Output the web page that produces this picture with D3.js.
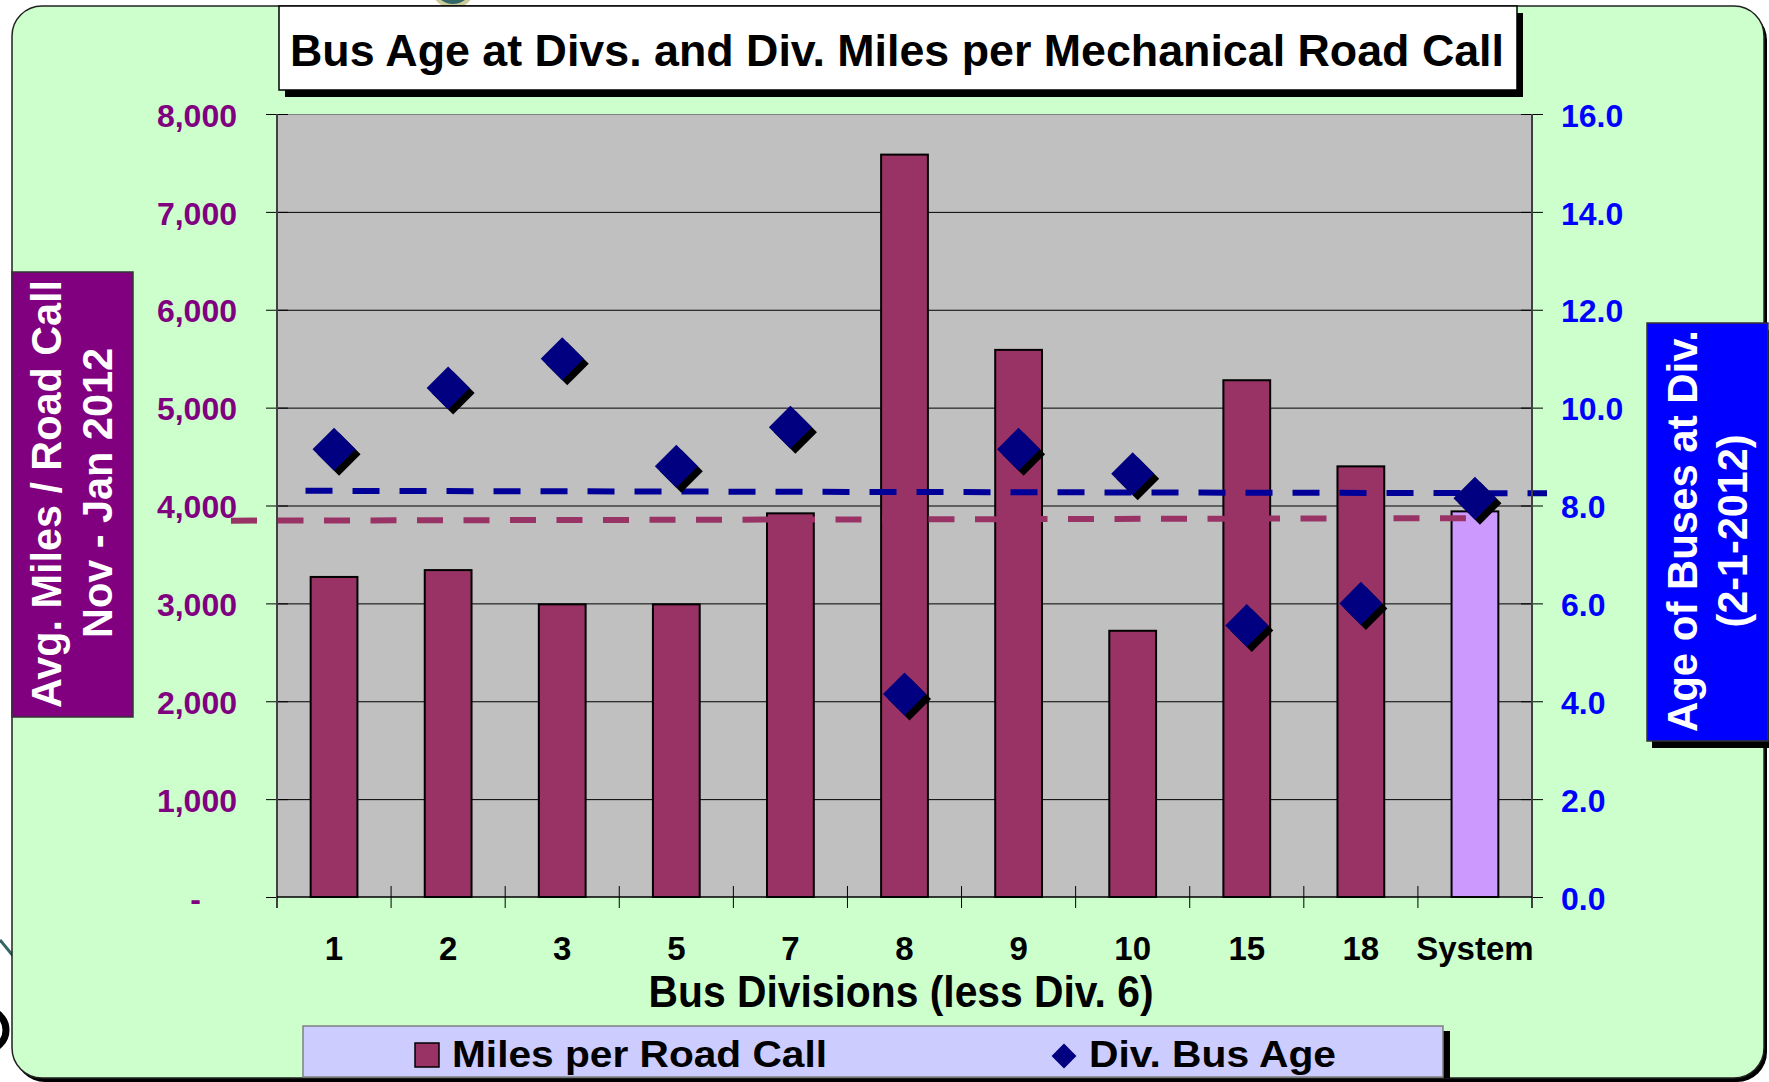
<!DOCTYPE html>
<html>
<head>
<meta charset="utf-8">
<script src="https://cdn.jsdelivr.net/npm/d3@7"></script>
<style>
  body { margin: 0; background: #fff; }
  svg { display: block; font-family: 'Liberation Sans', Arial, sans-serif; font-weight: bold; }
</style>
</head>
<body>
<svg width="1769" height="1082"></svg>
<script>
const divisions = ['1', '2', '3', '5', '7', '8', '9', '10', '15', '18', 'System']
const milesPerRoadCall = [3270, 3340, 2990, 2990, 3920, 7585, 5590, 2720, 5280, 4400, 3940]
const busAge = [9.15, 10.4, 11.0, 8.8, 9.6, 4.15, 9.15, 8.65, 5.55, 6.0, 8.15]

const milesTicks = [0, 1000, 2000, 3000, 4000, 5000, 6000, 7000, 8000]
const milesTickLabels = ['-', '1,000', '2,000', '3,000', '4,000', '5,000', '6,000', '7,000', '8,000']
const ageTicks = [0, 2, 4, 6, 8, 10, 12, 14, 16]
const ageTickLabels = ['0.0', '2.0', '4.0', '6.0', '8.0', '10.0', '12.0', '14.0', '16.0']

// hand drawn average lines (start, end)
const avgMilesLine = [3845, 3870]
const avgAgeLine = [8.30, 8.25]

draw()

function draw () {
  const dim = setDimensions()
  const scales = setScales(dim)
  const svg = d3.select('svg')

  drawFrame(svg)
  drawPlotArea(svg, dim, scales)
  drawBars(svg, dim, scales)
  drawAverageLines(svg, dim, scales)
  drawDiamonds(svg, scales)
  drawAxes(svg, dim, scales)
  drawTitles(svg)
  drawLegend(svg)
}

function setDimensions () {
  return { left: 277, right: 1532, top: 114, bottom: 897 }
}

function setScales (dim) {
  return {
    x: d3.scaleBand().domain(divisions).range([dim.left, dim.right]),
    yMiles: d3.scaleLinear().domain([0, 8000]).range([dim.bottom, dim.top]),
    yAge: d3.scaleLinear().domain([0, 16]).range([dim.bottom, dim.top])
  }
}

function drawFrame (svg) {
  // bits of the slide behind the chart
  svg.append('line')
    .attr('x1', 0).attr('y1', 940).attr('x2', 14).attr('y2', 957)
    .attr('stroke', '#336666').attr('stroke-width', 3)
  svg.append('circle')
    .attr('cx', -14).attr('cy', 1030).attr('r', 20)
    .attr('fill', 'none').attr('stroke', '#000').attr('stroke-width', 7)
  svg.append('ellipse')
    .attr('cx', 453).attr('cy', -8).attr('rx', 18).attr('ry', 14)
    .attr('fill', '#336666').attr('stroke', '#cccc99').attr('stroke-width', 4)

  svg.append('rect') // shadow
    .attr('x', 15).attr('y', 10).attr('width', 1752).attr('height', 1072)
    .attr('rx', 30).attr('fill', '#000')
  svg.append('rect')
    .attr('x', 12).attr('y', 6).attr('width', 1752).attr('height', 1072)
    .attr('rx', 30).attr('fill', '#CCFFCC')
    .attr('stroke', '#222').attr('stroke-width', 1.5)
}

function drawPlotArea (svg, dim, { yMiles }) {
  svg.append('rect')
    .attr('x', dim.left).attr('y', dim.top)
    .attr('width', dim.right - dim.left).attr('height', dim.bottom - dim.top)
    .attr('fill', '#C0C0C0')

  svg.append('g')
    .attr('transform', `translate(${dim.left},0)`)
    .call(d3.axisLeft(yMiles)
      .tickValues(milesTicks.slice(1))
      .tickSize(-(dim.right - dim.left))
      .tickFormat(''))
    .call(g => g.select('.domain').remove())
    .call(g => g.selectAll('.tick line')
      .attr('stroke', d => d === 8000 ? '#808080' : '#000')
      .attr('stroke-width', 1))
}

function drawBars (svg, dim, { x, yMiles }) {
  const w = x.bandwidth() * 0.41
  svg.append('g')
    .selectAll('rect')
    .data(milesPerRoadCall)
    .join('rect')
      .attr('x', (d, i) => x(divisions[i]) + (x.bandwidth() - w) / 2)
      .attr('y', d => yMiles(d))
      .attr('width', w)
      .attr('height', d => dim.bottom - yMiles(d))
      .attr('fill', (d, i) => divisions[i] === 'System' ? '#CC99FF' : '#993366')
      .attr('stroke', '#000')
      .attr('stroke-width', 2)
}

function drawAverageLines (svg, dim, { x, yMiles, yAge }) {
  const bw = x.bandwidth()
  svg.append('line') // system miles
    .attr('x1', dim.left - 46).attr('y1', yMiles(avgMilesLine[0]))
    .attr('x2', x('System') + bw / 2 - 9).attr('y2', yMiles(avgMilesLine[1]))
    .attr('stroke', '#993366').attr('stroke-width', 6)
    .attr('stroke-dasharray', '26 20.5')
  svg.append('line') // system age
    .attr('x1', x(divisions[0]) + bw * 0.25).attr('y1', yAge(avgAgeLine[0]))
    .attr('x2', dim.right + 15).attr('y2', yAge(avgAgeLine[1]))
    .attr('stroke', '#000099').attr('stroke-width', 6)
    .attr('stroke-dasharray', '27 20')
}

function drawDiamonds (svg, { x, yAge }) {
  const diamond = d3.symbol(d3.symbolSquare, 925)
  const cx = i => x(divisions[i]) + x.bandwidth() / 2
  const g = svg.append('g')

  g.selectAll('.shadow')
    .data(busAge)
    .join('path')
      .attr('class', 'shadow')
      .attr('d', diamond)
      .attr('transform', (d, i) => `translate(${cx(i) + 5},${yAge(d) + 5}) rotate(45)`)
      .attr('fill', '#000')

  g.selectAll('.marker')
    .data(busAge)
    .join('path')
      .attr('class', 'marker')
      .attr('d', diamond)
      .attr('transform', (d, i) => `translate(${cx(i)},${yAge(d)}) rotate(45)`)
      .attr('fill', '#000080')
}

function drawAxes (svg, dim, scales) {
  drawYAxisLeft(svg, dim, scales.yMiles)
  drawYAxisRight(svg, dim, scales.yAge)
  drawXAxis(svg, dim, scales.x)
}

function styleAxis (g, size, color) {
  g.attr('font-family', null).attr('font-size', size)
  g.select('.domain').remove()
  g.selectAll('.tick text').attr('fill', color)
  g.selectAll('.tick line').attr('stroke', '#000')
}

function drawYAxisLeft (svg, dim, yMiles) {
  svg.append('g')
    .attr('transform', `translate(${dim.left},0)`)
    .call(d3.axisLeft(yMiles)
      .tickValues(milesTicks)
      .tickSize(11)
      .tickPadding(29)
      .tickFormat(d => milesTickLabels[milesTicks.indexOf(d)]))
    .call(g => styleAxis(g, 32, '#800080'))
    .call(g => g.selectAll('.tick line').attr('x2', -11).attr('x1', d => d === 0 ? 0 : 11))
    .call(g => g.selectAll('.tick text').attr('dy', '0.38em'))
    .call(g => g.selectAll('.tick text').filter(d => d === 0).attr('dx', -36))

  svg.append('line')
    .attr('x1', dim.left).attr('x2', dim.left)
    .attr('y1', dim.top).attr('y2', dim.bottom + 11)
    .attr('stroke', '#404040').attr('stroke-width', 2)
}

function drawYAxisRight (svg, dim, yAge) {
  svg.append('g')
    .attr('transform', `translate(${dim.right},0)`)
    .call(d3.axisRight(yAge)
      .tickValues(ageTicks)
      .tickSize(11)
      .tickPadding(18)
      .tickFormat(d => ageTickLabels[ageTicks.indexOf(d)]))
    .call(g => styleAxis(g, 32, '#0000FF'))
    .call(g => g.selectAll('.tick line').attr('x1', d => d === 0 ? 0 : -11))
    .call(g => g.selectAll('.tick text').attr('dy', '0.38em'))

  svg.append('line')
    .attr('x1', dim.right).attr('x2', dim.right)
    .attr('y1', dim.top).attr('y2', dim.bottom + 11)
    .attr('stroke', '#404040').attr('stroke-width', 2)
}

function drawXAxis (svg, dim, x) {
  svg.append('g')
    .attr('transform', `translate(0,${dim.bottom})`)
    .call(d3.axisBottom(x).tickSize(0).tickPadding(40))
    .call(g => styleAxis(g, 33, '#000'))

  svg.append('line')
    .attr('x1', dim.left).attr('x2', dim.right)
    .attr('y1', dim.bottom).attr('y2', dim.bottom)
    .attr('stroke', '#000').attr('stroke-width', 1.5)

  const bounds = divisions.map(d => x(d)).concat([x.range()[1]])
  svg.append('g')
    .selectAll('line')
    .data(bounds.slice(1, -1))
    .join('line')
      .attr('x1', d => d).attr('x2', d => d)
      .attr('y1', dim.bottom - 11).attr('y2', dim.bottom + 11)
      .attr('stroke', '#000').attr('stroke-width', 1)
}

function drawTitles (svg) {
  // chart title
  svg.append('rect')
    .attr('x', 285).attr('y', 13).attr('width', 1238).attr('height', 84)
    .attr('fill', '#000')
  svg.append('rect')
    .attr('x', 279).attr('y', 6).attr('width', 1238).attr('height', 84)
    .attr('fill', '#fff').attr('stroke', '#000').attr('stroke-width', 1.5)
  svg.append('text')
    .attr('x', 897).attr('y', 66)
    .attr('text-anchor', 'middle').attr('font-size', 45)
    .attr('textLength', 1214).attr('lengthAdjust', 'spacingAndGlyphs')
    .text('Bus Age at Divs. and Div. Miles per Mechanical Road Call')

  // left axis title
  svg.append('rect')
    .attr('x', 12).attr('y', 272).attr('width', 121).attr('height', 445)
    .attr('fill', '#800080').attr('stroke', '#333').attr('stroke-width', 1.5)
  rotatedText(svg, 61, 494, 'Avg. Miles / Road Call', 428)
  rotatedText(svg, 112, 493, 'Nov - Jan 2012', 290)

  // right axis title
  svg.append('rect')
    .attr('x', 1652).attr('y', 330).attr('width', 121).attr('height', 418)
    .attr('fill', '#000')
  svg.append('rect')
    .attr('x', 1647).attr('y', 323).attr('width', 121).attr('height', 418)
    .attr('fill', '#0000FF').attr('stroke', '#333').attr('stroke-width', 1.5)
  rotatedText(svg, 1697, 531, 'Age of Buses at Div.', 402)
  rotatedText(svg, 1747, 531, '(2-1-2012)', 193)

  // x axis title
  svg.append('text')
    .attr('x', 901).attr('y', 1007)
    .attr('text-anchor', 'middle').attr('font-size', 44)
    .attr('textLength', 505).attr('lengthAdjust', 'spacingAndGlyphs')
    .text('Bus Divisions (less Div. 6)')
}

function rotatedText (svg, x, y, label, len) {
  svg.append('text')
    .attr('transform', `translate(${x},${y}) rotate(-90)`)
    .attr('text-anchor', 'middle').attr('font-size', 42).attr('fill', '#fff')
    .attr('textLength', len).attr('lengthAdjust', 'spacingAndGlyphs')
    .text(label)
}

function drawLegend (svg) {
  svg.append('rect')
    .attr('x', 1443).attr('y', 1031).attr('width', 7).attr('height', 47)
    .attr('fill', '#000')
  svg.append('rect')
    .attr('x', 303).attr('y', 1026).attr('width', 1140).attr('height', 51)
    .attr('fill', '#CCCCFF').attr('stroke', '#808080').attr('stroke-width', 1.5)

  svg.append('rect')
    .attr('x', 415).attr('y', 1043).attr('width', 24).attr('height', 24)
    .attr('fill', '#993366').attr('stroke', '#000').attr('stroke-width', 1.5)
  svg.append('text')
    .attr('x', 452).attr('y', 1067).attr('font-size', 37)
    .attr('textLength', 375).attr('lengthAdjust', 'spacingAndGlyphs')
    .text('Miles per Road Call')

  svg.append('path')
    .attr('d', d3.symbol(d3.symbolSquare, 310))
    .attr('transform', 'translate(1064,1056) rotate(45)')
    .attr('fill', '#000080')
  svg.append('text')
    .attr('x', 1089).attr('y', 1067).attr('font-size', 37)
    .attr('textLength', 247).attr('lengthAdjust', 'spacingAndGlyphs')
    .text('Div. Bus Age')
}
</script>
</body>
</html>
